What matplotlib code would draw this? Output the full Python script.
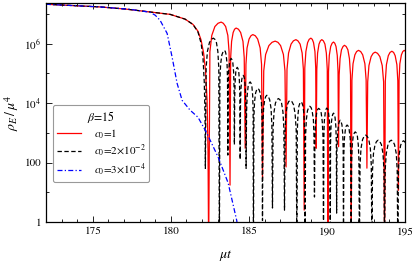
import numpy as np
import matplotlib
matplotlib.use("Agg")
import matplotlib.pyplot as plt
from matplotlib.ticker import FixedLocator, NullFormatter

plt.rcParams['font.family'] = ['STIXGeneral', 'DejaVu Serif']
plt.rcParams['mathtext.fontset'] = 'stix'

# 数据: mu*t 与 log10(rho_E/mu^4)
red_t = [172.0, 173.54, 175.46, 177.06, 178.67, 179.95, 180.91, 181.42, 181.74, 181.94,
         182.10, 182.22, 182.32, 182.38, 182.42,
         182.50, 182.62, 182.82, 183.02, 183.22, 183.36, 183.51, 183.65, 183.73, 183.79,
         183.83, 183.89, 183.99, 184.08, 184.18, 184.33, 184.47, 184.62, 184.70, 184.76,
         184.81, 184.88, 185.01, 185.13, 185.25, 185.41, 185.56, 185.72, 185.81, 185.87,
         185.95, 186.07, 186.28, 186.48, 186.68, 186.86, 187.03, 187.21, 187.31, 187.38,
         187.44, 187.54, 187.70, 187.85, 188.01, 188.14, 188.28, 188.41, 188.49, 188.54,
         188.58, 188.65, 188.76, 188.86, 188.97, 189.06, 189.14, 189.23, 189.28, 189.31,
         189.35, 189.40, 189.49, 189.58, 189.67, 189.77, 189.87, 189.96, 190.02, 190.06,
         190.10, 190.15, 190.24, 190.33, 190.42, 190.50, 190.58, 190.66, 190.71, 190.74,
         190.78, 190.84, 190.93, 191.03, 191.12, 191.23, 191.34, 191.44, 191.51, 191.55,
         191.60, 191.67, 191.79, 191.90, 192.02, 192.16, 192.29, 192.43, 192.51, 192.56,
         192.61, 192.69, 192.83, 192.96, 193.09, 193.24, 193.39, 193.54, 193.63, 193.69,
         193.74, 193.81, 193.93, 194.04, 194.16, 194.27, 194.37, 194.48, 194.54, 194.58,
         194.62, 194.67, 194.77, 194.86, 194.95, 195.05, 195.15, 195.25]
red_lg = [7.32, 7.28, 7.23, 7.16, 7.06, 6.98, 6.82, 6.64, 6.41, 6.11,
          5.67, 5.10, 4.09, 2.4, -1,
          5.72, 6.27, 6.57, 6.68, 6.72, 6.68, 6.57, 6.27, 5.72, 1.24,
          5.52, 6.07, 6.37, 6.48, 6.52, 6.48, 6.37, 6.07, 5.52, 2.48,
          5.30, 5.85, 6.15, 6.26, 6.30, 6.26, 6.15, 5.85, 5.30, 1.47,
          5.08, 5.63, 5.93, 6.04, 6.08, 6.04, 5.93, 5.63, 5.08, 1.85,
          5.13, 5.68, 5.98, 6.09, 6.13, 6.09, 5.98, 5.68, 5.13, 0.40,
          5.18, 5.73, 6.03, 6.14, 6.18, 6.14, 6.03, 5.73, 5.18, 2.48,
          5.13, 5.68, 5.98, 6.09, 6.13, 6.09, 5.98, 5.68, 5.13, -1,
          5.05, 5.60, 5.90, 6.01, 6.05, 6.01, 5.90, 5.60, 5.05, 2.53,
          4.94, 5.49, 5.79, 5.90, 5.94, 5.90, 5.79, 5.49, 4.94, -1,
          4.77, 5.32, 5.62, 5.73, 5.77, 5.73, 5.62, 5.32, 4.77, 1.81,
          4.71, 5.26, 5.56, 5.67, 5.71, 5.67, 5.56, 5.26, 4.71, -1,
          4.74, 5.29, 5.59, 5.70, 5.74, 5.70, 5.59, 5.29, 4.74, 1.07,
          4.77, 5.32, 5.62, 5.73, 5.77, 5.73, 5.62, 5.32]

black_t = [172.0, 173.54, 175.46, 177.06, 178.67, 179.95, 180.91, 181.42, 181.74, 181.94,
           182.06, 182.14, 182.19, 182.21,
           182.26, 182.34, 182.47, 182.59, 182.72, 182.82, 182.92, 183.01, 183.07, 183.11,
           183.14, 183.19, 183.27, 183.35, 183.43, 183.49, 183.54, 183.60, 183.63, 183.65,
           183.67, 183.70, 183.76, 183.81, 183.86, 183.91, 183.97, 184.02, 184.05, 184.07,
           184.09, 184.12, 184.16, 184.21, 184.25, 184.30, 184.35, 184.39, 184.42, 184.44,
           184.46, 184.49, 184.54, 184.58, 184.63, 184.68, 184.73, 184.77, 184.80, 184.82,
           184.85, 184.89, 184.95, 185.02, 185.08, 185.13, 185.19, 185.24, 185.27, 185.29,
           185.32, 185.36, 185.43, 185.50, 185.57, 185.65, 185.72, 185.80, 185.84, 185.87,
           185.90, 185.94, 186.01, 186.08, 186.15, 186.24, 186.33, 186.42, 186.47, 186.51,
           186.55, 186.61, 186.70, 186.80, 186.89, 186.99, 187.09, 187.18, 187.24, 187.28,
           187.32, 187.37, 187.46, 187.55, 187.64, 187.75, 187.86, 187.96, 188.03, 188.07,
           188.10, 188.14, 188.20, 188.27, 188.33, 188.40, 188.47, 188.53, 188.57, 188.60,
           188.63, 188.68, 188.75, 188.83, 188.90, 188.98, 189.05, 189.13, 189.17, 189.20,
           189.23, 189.27, 189.34, 189.40, 189.47, 189.55, 189.63, 189.70, 189.75, 189.78,
           189.80, 189.83, 189.89, 189.94, 189.99, 190.05, 190.10, 190.16, 190.19, 190.21,
           190.23, 190.26, 190.32, 190.37, 190.42, 190.47, 190.52, 190.57, 190.60, 190.62,
           190.64, 190.68, 190.74, 190.79, 190.85, 190.90, 190.96, 191.01, 191.04, 191.06,
           191.08, 191.12, 191.18, 191.23, 191.29, 191.36, 191.42, 191.49, 191.52, 191.55,
           191.58, 191.62, 191.68, 191.75, 191.81, 191.88, 191.95, 192.01, 192.05, 192.08,
           192.12, 192.18, 192.28, 192.38, 192.48, 192.58, 192.68, 192.78, 192.84, 192.88,
           192.92, 192.98, 193.08, 193.18, 193.28, 193.38, 193.49, 193.59, 193.65, 193.69,
           193.73, 193.80, 193.91, 194.01, 194.12, 194.23, 194.33, 194.44, 194.50, 194.54,
           194.58, 194.63, 194.72, 194.81, 194.90, 195.00, 195.10, 195.20]
black_lg = [7.32, 7.28, 7.23, 7.16, 7.06, 6.98, 6.82, 6.64, 6.38, 6.0,
            5.5, 4.7, 3.5, 1.8,
            5.18, 5.73, 6.03, 6.14, 6.18, 6.14, 6.03, 5.73, 5.18, -1,
            4.77, 5.32, 5.62, 5.73, 5.77, 5.73, 5.62, 5.32, 4.77, 2.25,
            4.50, 5.05, 5.35, 5.46, 5.50, 5.46, 5.35, 5.05, 4.50, 2.6,
            4.20, 4.75, 5.05, 5.16, 5.20, 5.16, 5.05, 4.75, 4.20, 2.1,
            3.93, 4.48, 4.78, 4.89, 4.93, 4.89, 4.78, 4.48, 3.93, 1.8,
            3.71, 4.26, 4.56, 4.67, 4.71, 4.67, 4.56, 4.26, 3.71, -1,
            3.49, 4.04, 4.34, 4.45, 4.49, 4.45, 4.34, 4.04, 3.49, 0.05,
            3.26, 3.81, 4.11, 4.22, 4.26, 4.22, 4.11, 3.81, 3.26, 0.47,
            3.15, 3.70, 4.00, 4.11, 4.15, 4.11, 4.00, 3.70, 3.15, 0.4,
            3.09, 3.64, 3.94, 4.05, 4.09, 4.05, 3.94, 3.64, 3.09, -1,
            3.04, 3.59, 3.89, 4.00, 4.04, 4.00, 3.89, 3.59, 3.04, -1,
            2.89, 3.44, 3.74, 3.85, 3.89, 3.85, 3.74, 3.44, 2.89, 0.84,
            2.82, 3.37, 3.67, 3.78, 3.82, 3.78, 3.67, 3.37, 2.82, -1,
            2.83, 3.38, 3.68, 3.79, 3.83, 3.79, 3.68, 3.38, 2.83, -1,
            2.66, 3.21, 3.51, 3.62, 3.66, 3.62, 3.51, 3.21, 2.66, 0.3,
            2.42, 2.97, 3.27, 3.38, 3.42, 3.38, 3.27, 2.97, 2.42, -1,
            2.26, 2.81, 3.11, 3.22, 3.26, 3.22, 3.11, 2.81, 2.26, -1,
            2.03, 2.58, 2.88, 2.99, 3.03, 2.99, 2.88, 2.58, 2.03, -1,
            1.92, 2.47, 2.77, 2.88, 2.92, 2.88, 2.77, 2.47, 1.92, -1,
            1.75, 2.30, 2.60, 2.71, 2.75, 2.71, 2.60, 2.30, 1.75, -1,
            1.75, 2.30, 2.60, 2.71, 2.75, 2.71, 2.60, 2.30, 1.75, -1,
            1.73, 2.28, 2.58, 2.69, 2.73, 2.69, 2.58, 2.28]

blue_t = [172.0, 175.46, 177.38, 178.67, 179.0, 179.31, 179.76, 180.08, 180.40, 180.72,
          181.23, 181.74, 182.30, 183.03, 183.67, 184.22, 184.35]
blue_lg = [7.32, 7.23, 7.15, 7.05, 6.95, 6.78, 6.34, 5.54, 4.66, 4.09,
           3.76, 3.52, 2.99, 2.18, 1.31, 0.05, -0.5]

labels = [r'$c_0$=1', r'$c_0$=2×10$^{-2}$', r'$c_0$=3×10$^{-4}$']
xticks = [175, 180, 185, 190, 195]
yticks = [1, 100, 1e4, 1e6]
ytick_labels = ['1', '100', r'$10^4$', r'$10^6$']

fig = plt.figure(figsize=(4.15, 2.65), dpi=100)
ax = fig.add_axes([46 / 415, 43 / 265, 359 / 415, 219 / 265])

ax.plot(red_t, 10 ** np.array(red_lg), color='red', lw=0.9, label=labels[0])
ax.plot(black_t, 10 ** np.array(black_lg), color='black', lw=0.9, dashes=(3.5, 2), label=labels[1])
ax.plot(blue_t, 10 ** np.array(blue_lg), color='blue', lw=0.9, dashes=(4, 1.8, 1, 1.8), label=labels[2])

ax.set_yscale('log')
ax.set_xlim(172, 195)
ax.set_ylim(1, 2.3e7)
ax.set_xticks(xticks)
ax.xaxis.set_minor_locator(FixedLocator(list(range(172, 196))))
ax.set_yticks(yticks, labels=ytick_labels)
ax.yaxis.set_minor_locator(FixedLocator([10, 1e3, 1e5, 1e7]))
ax.yaxis.set_minor_formatter(NullFormatter())
ax.tick_params(which='both', direction='in', top=True, right=True, labelsize=8, width=0.6)
ax.tick_params(which='major', length=4)
ax.tick_params(which='minor', length=2.5)
for s in ax.spines.values():
    s.set_linewidth(0.9)

ax.set_xlabel(r'$\mu t$', fontsize=10, labelpad=8)
ax.set_ylabel(r'$\rho_E\,/\,\mu^4$', fontsize=10, labelpad=2)

leg = ax.legend(title=r'$\beta$=15', loc='upper left', bbox_to_anchor=(0.0195, 0.534),
                borderaxespad=0, fontsize=8, title_fontsize=8.5, handlelength=2.2,
                handletextpad=1.1, labelspacing=0.2, fancybox=True, framealpha=1,
                borderpad=0.35)
leg.get_frame().set_edgecolor('#999999')
leg.get_frame().set_linewidth(0.8)

fig.savefig('out.png', dpi=100)
